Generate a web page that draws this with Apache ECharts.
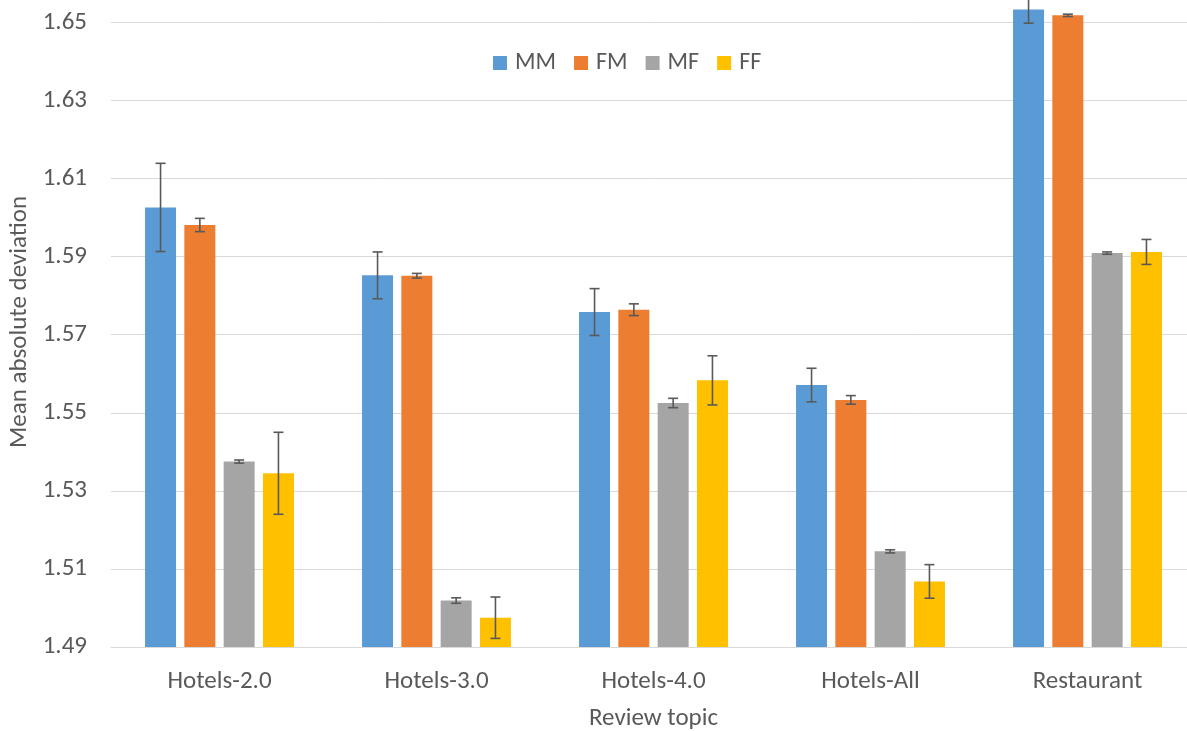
<!DOCTYPE html>
<html>
<head>
<meta charset="utf-8">
<script src="https://cdn.jsdelivr.net/npm/echarts@6/dist/echarts.min.js"></script>
<style>
html,body{margin:0;padding:0;background:#fff;}
#c{width:1187px;height:731px;}
</style>
</head>
<body>
<div id="c"></div>
<script>
const categories = ['Hotels-2.0', 'Hotels-3.0', 'Hotels-4.0', 'Hotels-All', 'Restaurant'];
const seriesNames = ['MM', 'FM', 'MF', 'FF'];
const MM = [1.6026, 1.5852, 1.5758, 1.5571, 1.6533];
const FM = [1.5981, 1.5851, 1.5764, 1.5533, 1.6518];
const MF = [1.5375, 1.5019, 1.5525, 1.5145, 1.5909];
const FF = [1.5345, 1.4975, 1.5583, 1.5068, 1.5912];
const MM_err = [0.0113, 0.0060, 0.0060, 0.0043, 0.0035];
const FM_err = [0.0017, 0.0006, 0.0015, 0.0011, 0.0003];
const MF_err = [0.0004, 0.0007, 0.0012, 0.0004, 0.0003];
const FF_err = [0.0105, 0.0053, 0.0063, 0.0043, 0.0032];
const yTicks = { min: 1.49, max: 1.6565, interval: 0.02 };

const values = [MM, FM, MF, FF];
const errs = [MM_err, FM_err, MF_err, FF_err];
const colors = ['#5B9BD5', '#ED7D31', '#A5A5A5', '#FFC000'];
const FONT = 'Carlito, Lato, sans-serif';
const TXT = '#595959';
const BAR_W = 31;
const GAP_PX = 8.3;

const chart = echarts.init(document.getElementById('c'), null, { renderer: 'canvas' });

const barSeries = seriesNames.map((n, i) => ({
  name: n,
  type: 'bar',
  data: values[i],
  barWidth: BAR_W,
  barGap: (GAP_PX / BAR_W * 100).toFixed(1) + '%',
  itemStyle: { color: colors[i] },
  emphasis: { disabled: true },
  z: 2
}));

const errSeries = seriesNames.map((n, i) => ({
  name: n + '_err',
  type: 'custom',
  z: 5,
  clip: false,
  data: values[i].map((v, k) => [k, v - errs[i][k], v + errs[i][k]]),
  renderItem: function (params, api) {
    const k = api.value(0);
    const lo = api.coord([k, api.value(1)]);
    const hi = api.coord([k, api.value(2)]);
    const step = BAR_W + GAP_PX;
    const off = (i - 1.5) * step;
    const x = lo[0] + off;
    const cap = 5;
    const st = { stroke: '#595959', lineWidth: 1.6 };
    return {
      type: 'group',
      children: [
        { type: 'line', shape: { x1: x, y1: lo[1], x2: x, y2: hi[1] }, style: st },
        { type: 'line', shape: { x1: x - cap, y1: lo[1], x2: x + cap, y2: lo[1] }, style: st },
        { type: 'line', shape: { x1: x - cap, y1: hi[1], x2: x + cap, y2: hi[1] }, style: st }
      ]
    };
  }
}));

chart.setOption({
  animation: false,
  backgroundColor: '#fff',
  textStyle: { fontFamily: FONT },
  grid: { left: 111, right: -9, top: -3, bottom: 84, containLabel: false, outerBoundsMode: 'none' },
  legend: {
    data: seriesNames,
    left: 488,
    top: 46,
    itemWidth: 14,
    itemHeight: 14,
    itemGap: 18,
    icon: 'rect',
    textStyle: { fontSize: 24, color: TXT, fontFamily: FONT, padding: [0, 0, 0, 3] }
  },
  xAxis: {
    type: 'category',
    data: categories,
    name: 'Review topic',
    nameLocation: 'middle',
    nameGap: 59,
    nameTextStyle: { fontSize: 25, color: TXT, fontFamily: FONT },
    axisLine: { lineStyle: { color: '#d9d9d9', width: 1 } },
    axisTick: { show: false },
    axisLabel: { fontSize: 25, color: TXT, margin: 22, fontFamily: FONT }
  },
  yAxis: {
    type: 'value',
    min: yTicks.min,
    max: yTicks.max,
    interval: yTicks.interval,
    name: 'Mean absolute deviation',
    nameLocation: 'middle',
    nameGap: 77,
    nameTextStyle: { fontSize: 25, color: TXT, fontFamily: FONT },
    axisLine: { show: false },
    axisTick: { show: false },
    splitLine: { lineStyle: { color: '#d9d9d9', width: 1 } },
    axisLabel: {
      fontSize: 25, color: TXT, margin: 24, fontFamily: FONT,
      showMaxLabel: false,
      formatter: v => v.toFixed(2)
    }
  },
  series: barSeries.concat(errSeries)
});
</script>
</body>
</html>
